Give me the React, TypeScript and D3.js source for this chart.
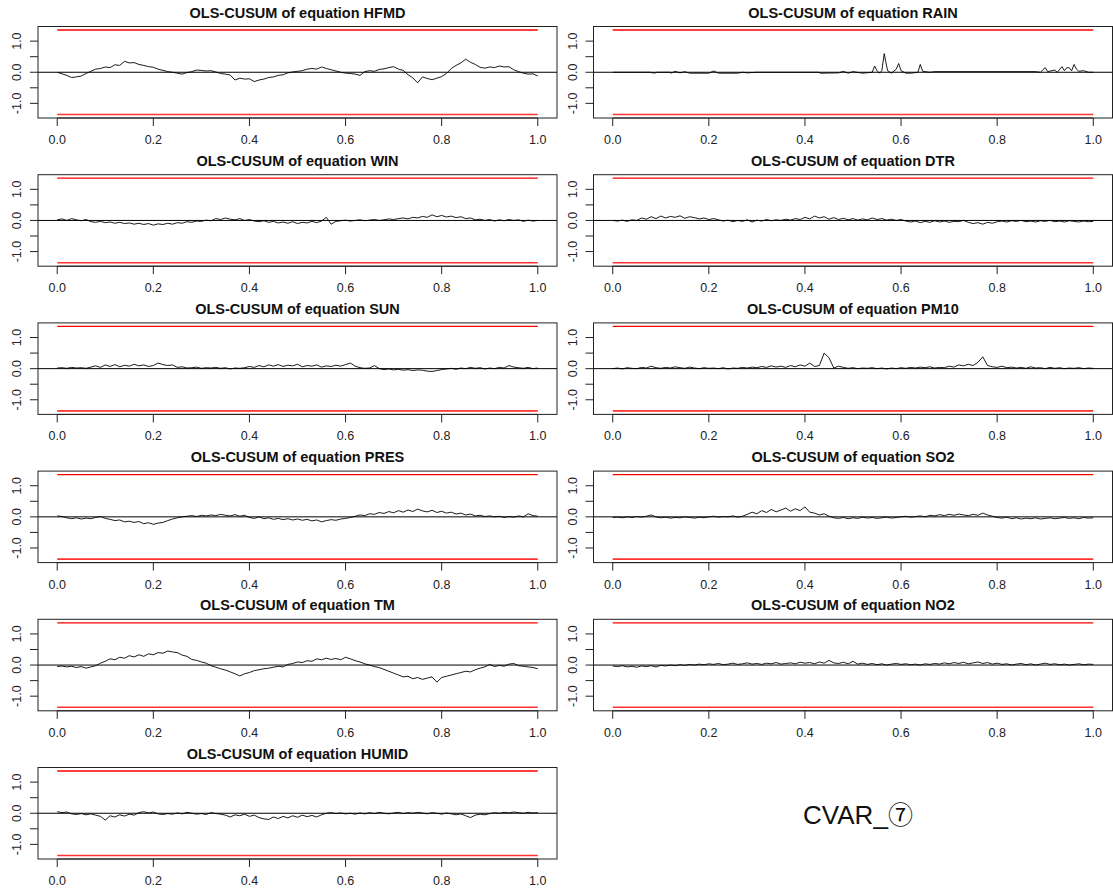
import React from 'react';
import { scaleLinear, line } from 'd3';

const W = 1113;
const H = 890;

// panel order: left column top->bottom, then right column
const panelNames = ['HFMD', 'WIN', 'SUN', 'PRES', 'TM', 'HUMID', 'RAIN', 'DTR', 'PM10', 'SO2', 'NO2'];

const xTicks = [0, 0.2, 0.4, 0.6, 0.8, 1.0];
const yTicks = [-1, -0.5, 0, 0.5, 1];
const yLabels = [-1, 0, 1];
const bound = 1.358; // 5% boundary of OLS-CUSUM

// values sampled at equal steps over [0, 1]
const hfmd = [0.00, -0.05, -0.10, -0.17, -0.15, -0.12, -0.04, 0.03, 0.10, 0.12, 0.17, 0.15, 0.24, 0.22, 0.35, 0.30, 0.31, 0.25, 0.22, 0.18, 0.16, 0.10, 0.06, 0.02, 0.00, -0.03, -0.06, -0.01, 0.02, 0.07, 0.06, 0.04, 0.05, 0.01, -0.04, -0.06, -0.09, -0.25, -0.19, -0.22, -0.21, -0.30, -0.25, -0.22, -0.17, -0.15, -0.10, -0.08, -0.02, 0.01, 0.03, 0.05, 0.10, 0.12, 0.10, 0.17, 0.12, 0.08, 0.04, 0.00, -0.03, -0.04, -0.06, -0.10, 0.02, 0.05, 0.03, 0.09, 0.11, 0.15, 0.18, 0.10, 0.06, -0.08, -0.18, -0.34, -0.15, -0.20, -0.24, -0.19, -0.14, -0.04, 0.12, 0.22, 0.30, 0.42, 0.32, 0.25, 0.16, 0.13, 0.17, 0.15, 0.20, 0.17, 0.18, 0.08, 0.02, -0.03, -0.06, -0.05, -0.12];
const win = [0.02, 0.05, 0.00, 0.06, 0.02, -0.01, 0.03, -0.04, -0.06, -0.03, -0.07, -0.05, -0.09, -0.06, -0.10, -0.08, -0.12, -0.09, -0.13, -0.10, -0.15, -0.11, -0.13, -0.09, -0.12, -0.07, -0.09, -0.04, -0.06, -0.02, -0.03, 0.01, -0.01, 0.06, 0.03, 0.08, 0.04, 0.02, 0.06, 0.00, 0.03, -0.02, -0.04, -0.01, -0.06, -0.03, -0.08, -0.05, -0.09, -0.04, -0.10, -0.06, -0.08, -0.03, -0.07, -0.02, 0.10, -0.12, -0.03, -0.01, 0.01, -0.02, 0.00, 0.02, -0.01, 0.01, 0.03, 0.00, 0.02, 0.05, 0.03, 0.06, 0.08, 0.05, 0.10, 0.08, 0.13, 0.10, 0.18, 0.12, 0.16, 0.11, 0.14, 0.09, 0.12, 0.06, 0.08, 0.02, 0.04, 0.00, 0.03, -0.02, 0.02, -0.01, 0.03, 0.00, 0.02, -0.03, 0.01, -0.02, 0.00];
const sun = [0.02, 0.03, 0.01, 0.04, 0.02, 0.03, 0.01, 0.05, 0.09, 0.04, 0.12, 0.07, 0.13, 0.06, 0.11, 0.08, 0.14, 0.09, 0.12, 0.07, 0.10, 0.18, 0.13, 0.10, 0.12, 0.04, 0.06, 0.02, 0.03, 0.05, 0.01, 0.03, 0.02, 0.04, 0.01, 0.03, -0.01, 0.02, 0.01, 0.03, 0.07, 0.04, 0.10, 0.06, 0.12, 0.08, 0.13, 0.07, 0.11, 0.09, 0.14, 0.06, 0.10, 0.08, 0.12, 0.05, 0.09, 0.07, 0.11, 0.08, 0.13, 0.18, 0.08, 0.03, 0.01, 0.02, 0.10, 0.00, -0.03, -0.01, -0.04, -0.02, -0.05, -0.03, -0.06, -0.04, -0.05, -0.08, -0.09, -0.06, -0.03, -0.01, 0.01, -0.02, 0.02, 0.00, 0.04, 0.01, 0.03, -0.01, 0.02, 0.00, 0.04, 0.02, 0.10, 0.05, 0.03, 0.01, 0.04, 0.00, 0.02];
const pres = [0.03, 0.01, -0.03, -0.06, -0.03, -0.07, -0.04, -0.06, -0.02, 0.01, -0.05, -0.08, -0.12, -0.10, -0.16, -0.14, -0.18, -0.15, -0.22, -0.19, -0.24, -0.20, -0.18, -0.12, -0.07, -0.03, 0.00, 0.02, 0.04, 0.01, 0.05, 0.03, 0.06, 0.04, 0.08, 0.05, 0.03, 0.07, 0.02, 0.05, -0.02, -0.05, 0.00, -0.06, -0.03, -0.08, -0.05, -0.09, -0.06, -0.10, -0.07, -0.11, -0.08, -0.13, -0.10, -0.16, -0.12, -0.09, -0.11, -0.07, -0.05, -0.02, 0.02, 0.06, 0.04, 0.10, 0.08, 0.14, 0.11, 0.17, 0.13, 0.20, 0.15, 0.22, 0.17, 0.25, 0.19, 0.16, 0.21, 0.14, 0.18, 0.12, 0.15, 0.09, 0.12, 0.06, 0.09, 0.03, 0.05, 0.01, 0.03, 0.00, 0.02, -0.02, 0.01, -0.01, 0.03, 0.00, 0.10, 0.04, 0.02];
const tm = [-0.05, -0.03, -0.06, -0.04, -0.08, -0.05, -0.10, -0.06, -0.02, 0.06, 0.12, 0.20, 0.17, 0.25, 0.22, 0.30, 0.26, 0.33, 0.28, 0.36, 0.33, 0.40, 0.38, 0.45, 0.42, 0.40, 0.32, 0.28, 0.18, 0.15, 0.10, 0.06, -0.02, -0.07, -0.12, -0.16, -0.22, -0.28, -0.35, -0.28, -0.24, -0.18, -0.15, -0.12, -0.10, -0.07, -0.04, -0.06, 0.02, 0.05, 0.10, 0.08, 0.14, 0.12, 0.20, 0.17, 0.22, 0.18, 0.21, 0.17, 0.25, 0.20, 0.14, 0.10, 0.04, 0.00, -0.05, -0.08, -0.14, -0.20, -0.26, -0.32, -0.38, -0.36, -0.44, -0.40, -0.46, -0.42, -0.38, -0.55, -0.40, -0.36, -0.32, -0.28, -0.24, -0.20, -0.22, -0.15, -0.10, -0.06, 0.02, -0.05, -0.01, -0.04, 0.03, 0.05, -0.02, -0.04, -0.06, -0.08, -0.12];
const humid = [0.05, 0.02, 0.04, -0.02, -0.04, -0.01, -0.05, -0.02, -0.06, -0.10, -0.22, -0.08, -0.12, -0.05, -0.09, -0.03, -0.06, 0.02, 0.05, 0.01, 0.04, -0.02, -0.04, -0.01, -0.03, 0.01, -0.02, 0.03, 0.00, -0.03, -0.01, -0.04, 0.02, -0.01, -0.03, -0.06, -0.12, -0.05, -0.08, -0.03, -0.10, -0.06, -0.14, -0.18, -0.20, -0.12, -0.17, -0.10, -0.15, -0.08, -0.13, -0.06, -0.11, -0.07, -0.12, -0.05, 0.00, 0.02, -0.01, 0.01, -0.02, 0.00, -0.03, 0.01, -0.02, 0.02, -0.01, 0.03, 0.00, -0.02, 0.01, 0.03, -0.01, 0.02, 0.00, 0.03, 0.01, -0.02, 0.02, 0.00, -0.03, 0.01, -0.02, -0.05, -0.02, -0.08, -0.14, -0.06, -0.03, -0.05, -0.01, 0.02, 0.00, 0.03, 0.01, 0.04, 0.02, 0.00, 0.03, 0.01, 0.02];
const dtr = [0.00, -0.02, 0.01, -0.03, 0.02, 0.00, 0.08, 0.04, 0.12, 0.06, 0.14, 0.08, 0.13, 0.10, 0.15, 0.07, 0.12, 0.09, 0.05, 0.08, 0.03, 0.06, 0.02, -0.02, 0.01, -0.04, 0.00, -0.03, 0.02, -0.05, 0.01, -0.02, 0.03, -0.01, 0.02, 0.00, 0.04, 0.01, 0.06, 0.03, 0.10, 0.05, 0.14, 0.08, 0.12, 0.04, 0.09, 0.03, 0.07, 0.02, 0.06, 0.01, 0.05, 0.02, 0.08, 0.03, 0.06, 0.01, 0.04, 0.00, 0.03, -0.02, -0.05, -0.02, -0.07, -0.03, -0.06, -0.01, -0.05, -0.02, -0.06, -0.03, -0.04, 0.00, -0.06, -0.10, -0.07, -0.12, -0.06, -0.09, -0.04, -0.02, -0.05, -0.01, -0.03, 0.00, -0.04, -0.02, -0.05, -0.01, -0.03, 0.00, -0.04, -0.02, -0.05, -0.01, -0.03, -0.05, -0.02, -0.04, -0.03];
const pm10 = [0.00, 0.02, -0.01, 0.03, 0.01, 0.00, 0.04, 0.02, 0.08, 0.03, 0.01, 0.04, 0.02, 0.06, 0.03, 0.01, 0.05, 0.02, 0.00, 0.03, 0.01, 0.02, 0.00, 0.03, -0.01, 0.02, 0.01, 0.04, 0.02, 0.05, 0.03, 0.07, 0.04, 0.09, 0.05, 0.08, 0.04, 0.10, 0.06, 0.12, 0.08, 0.18, 0.07, 0.10, 0.50, 0.35, 0.02, 0.08, 0.04, 0.01, 0.03, 0.00, 0.02, 0.01, 0.03, 0.00, 0.02, -0.01, 0.02, 0.00, 0.03, 0.01, 0.04, 0.02, 0.05, 0.03, 0.06, 0.02, 0.04, 0.03, 0.08, 0.05, 0.12, 0.09, 0.14, 0.10, 0.20, 0.38, 0.10, 0.06, 0.04, 0.08, 0.03, 0.05, 0.02, 0.04, 0.01, 0.06, 0.02, 0.03, 0.00, 0.04, 0.01, 0.03, 0.00, 0.02, 0.01, 0.03, 0.00, 0.02, 0.01];
const so2 = [-0.02, -0.01, -0.03, 0.00, -0.02, 0.01, -0.01, 0.02, 0.06, 0.00, -0.03, -0.01, -0.04, -0.02, -0.03, 0.00, -0.02, -0.04, -0.01, -0.03, 0.00, 0.02, -0.01, 0.01, 0.00, 0.03, -0.01, 0.02, 0.08, 0.15, 0.10, 0.20, 0.14, 0.24, 0.16, 0.22, 0.28, 0.18, 0.26, 0.20, 0.32, 0.15, 0.12, 0.06, 0.10, 0.02, -0.03, -0.05, -0.02, -0.06, -0.03, -0.05, -0.01, -0.04, -0.02, -0.05, -0.03, -0.01, -0.04, -0.02, 0.00, 0.02, -0.01, 0.01, 0.03, 0.00, 0.05, 0.03, 0.07, 0.04, 0.08, 0.05, 0.09, 0.06, 0.04, 0.08, 0.05, 0.12, 0.06, 0.02, -0.02, -0.04, -0.01, -0.06, -0.03, -0.07, -0.04, -0.06, -0.03, -0.07, -0.05, -0.03, -0.06, -0.04, -0.02, -0.05, -0.03, -0.06, -0.02, -0.04, -0.03];
const no2 = [-0.03, -0.05, -0.02, -0.06, -0.04, -0.07, -0.03, -0.05, -0.02, -0.06, -0.01, -0.03, 0.00, -0.02, 0.01, -0.01, 0.02, 0.00, 0.03, 0.01, 0.04, 0.02, 0.05, 0.01, 0.03, 0.06, 0.02, 0.04, 0.07, 0.03, 0.05, 0.02, 0.06, 0.04, 0.08, 0.03, 0.05, 0.07, 0.04, 0.09, 0.06, 0.08, 0.04, 0.10, 0.06, 0.15, 0.07, 0.05, 0.09, 0.04, 0.12, 0.03, 0.06, 0.02, 0.05, 0.01, 0.04, 0.00, 0.03, 0.05, 0.02, 0.04, 0.01, 0.03, 0.00, 0.04, 0.02, 0.05, 0.03, 0.07, 0.04, 0.08, 0.05, 0.09, 0.04, 0.07, 0.10, 0.05, 0.08, 0.03, 0.06, 0.02, 0.04, 0.00, 0.03, 0.05, 0.01, 0.04, 0.00, 0.03, 0.06, 0.02, 0.04, 0.01, 0.03, 0.00, 0.02, 0.04, 0.01, 0.03, 0.02];

// RAIN is spiky, so it keeps its own x positions
const rainX = [0, 0.08, 0.081, 0.09, 0.091, 0.12, 0.121, 0.13, 0.14, 0.15, 0.16, 0.2, 0.21, 0.22, 0.26, 0.27, 0.28, 0.3, 0.43, 0.431, 0.47, 0.48, 0.49, 0.5, 0.52, 0.54, 0.545, 0.55, 0.555, 0.56, 0.565, 0.568, 0.572, 0.58, 0.59, 0.595, 0.6, 0.61, 0.62, 0.635, 0.64, 0.645, 0.66, 0.67, 0.88, 0.89, 0.9, 0.905, 0.92, 0.925, 0.935, 0.94, 0.945, 0.95, 0.955, 0.96, 0.965, 0.97, 0.98, 0.99, 1.0];
const rainY = [0, 0, -0.02, -0.02, 0, 0, -0.03, 0.03, -0.02, 0.02, -0.03, -0.03, 0.04, -0.03, -0.03, 0, -0.02, 0, 0, -0.03, -0.02, 0.03, -0.03, 0.02, -0.03, 0, 0.2, 0.05, -0.03, 0.05, 0.6, 0.35, 0.05, -0.03, 0.1, 0.28, 0.05, -0.03, -0.03, 0, 0.25, 0.03, 0, 0.02, 0.02, 0, 0.15, 0.02, 0.07, 0, 0.18, 0.05, 0.15, 0.14, 0.05, 0.25, 0.1, 0.03, 0.05, 0, 0];

const evenX = (v: number[]) => v.map((_, i) => i / (v.length - 1));

const seriesX: Record<string, number[]> = {
  HFMD: evenX(hfmd), WIN: evenX(win), SUN: evenX(sun), PRES: evenX(pres), TM: evenX(tm), HUMID: evenX(humid),
  RAIN: rainX, DTR: evenX(dtr), PM10: evenX(pm10), SO2: evenX(so2), NO2: evenX(no2)
};
const seriesY: Record<string, number[]> = {
  HFMD: hfmd, WIN: win, SUN: sun, PRES: pres, TM: tm, HUMID: humid,
  RAIN: rainY, DTR: dtr, PM10: pm10, SO2: so2, NO2: no2
};

const rowH = 148.2;
const boxW = 519;
const boxH = 91.5;
const font = "'Liberation Sans', Arial, sans-serif";

const Panel = ({ name, idx }: { name: string; idx: number }) => {
  const col = idx < 6 ? 0 : 1;
  const row = idx % 6;
  const left = col === 0 ? 38 : 593.5;
  const top = row * rowH + 26.5;
  const x = scaleLinear().domain([-0.04, 1.04]).range([left, left + boxW]);
  const y = scaleLinear().domain([-1.47, 1.47]).range([top + boxH, top]);
  const xs = seriesX[name];
  const ys = seriesY[name];
  const path = line<number>()
    .x((_, i) => x(xs[i]))
    .y(d => y(d))(ys);

  return (
    <g>
      <text x={left + boxW / 2} y={row * rowH + 17.5} textAnchor="middle" fontFamily={font}
        fontWeight="bold" fontSize={14.5} fill="#111">
        {`OLS-CUSUM of equation ${name}`}
      </text>
      {/* boundaries */}
      <line x1={x(0)} x2={x(1)} y1={y(bound)} y2={y(bound)} stroke="#f00" strokeWidth={1.3} />
      <line x1={x(0)} x2={x(1)} y1={y(-bound)} y2={y(-bound)} stroke="#f33" strokeWidth={1.6} />
      <line x1={left} x2={left + boxW} y1={y(0)} y2={y(0)} stroke="#000" strokeWidth={1} />
      <path d={path || ''} fill="none" stroke="#000" strokeWidth={0.9} strokeLinejoin="round" />
      <rect x={left} y={top} width={boxW} height={boxH} fill="none" stroke="#222" strokeWidth={1} />
      {/* x axis */}
      <line x1={x(0)} x2={x(1)} y1={top + boxH} y2={top + boxH} stroke="#222" />
      {xTicks.map(t => (
        <g key={t}>
          <line x1={x(t)} x2={x(t)} y1={top + boxH} y2={top + boxH + 8} stroke="#222" />
          <text x={x(t)} y={top + boxH + 26} textAnchor="middle" fontFamily={font} fontSize={12.5} fill="#222">
            {t.toFixed(1)}
          </text>
        </g>
      ))}
      {/* y axis */}
      {yTicks.map(t => (
        <line key={t} x1={left - 8} x2={left} y1={y(t)} y2={y(t)} stroke="#222" />
      ))}
      {yLabels.map(t => (
        <text key={t} transform={`translate(${left - 17},${y(t)}) rotate(-90)`} textAnchor="middle"
          fontFamily={font} fontSize={12.5} fill="#222">
          {t.toFixed(1)}
        </text>
      ))}
    </g>
  );
};

const App = () => {
  return (
    <svg width={W} height={H} style={{ position: 'absolute', left: 0, top: 0, background: '#fff' }}>
      <rect width={W} height={H} fill="#fff" />
      {panelNames.map((n, i) => <Panel key={n} name={n} idx={i} />)}
      <text x={858} y={824} textAnchor="middle" fontFamily={font} fontSize={26} fill="#111">
        CVAR_<tspan fontFamily="'Noto Sans CJK SC', 'DejaVu Sans', sans-serif" fontSize={25}>⑦</tspan>
      </text>
    </svg>
  );
};

export default App;
